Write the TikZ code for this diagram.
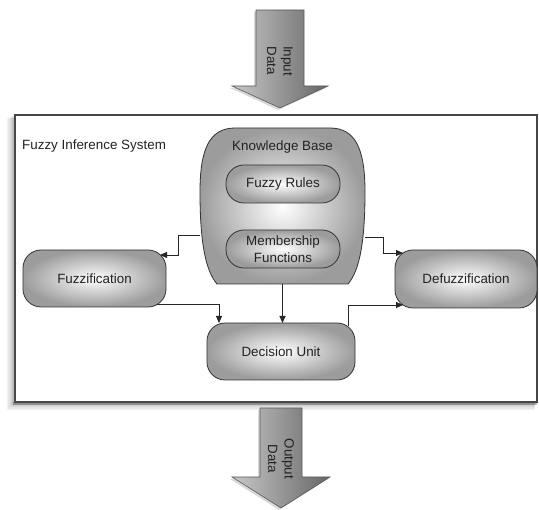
\documentclass[tikz,border=0pt]{standalone}
\usepackage{fontspec}
\setmainfont{Liberation Sans}
\usetikzlibrary{arrows.meta,shadows}
\definecolor{edge}{HTML}{333333}
\definecolor{txt}{HTML}{222222}
\definecolor{outg}{HTML}{9C9C9C}
\definecolor{arrL}{HTML}{C8C8C8}
\definecolor{arrR}{HTML}{666666}
\begin{document}
\begin{tikzpicture}[x=1pt,y=-1pt,
  every node/.style={font=\fontsize{13.4}{16.5}\selectfont, text=txt},
  stad/.style={draw=edge, line width=0.8pt, rounded corners=18pt, shading=radial,
    inner color=white, outer color=outg, inner sep=0pt, outer sep=0pt},
  kbshape/.style={draw=edge, line width=0.8pt, shading=radial, inner color=white, outer color=outg},
  conn/.style={draw=black!85, line width=0.9pt, -{Triangle[length=7pt,width=6pt]}},
  bigarrow/.style={draw=black!65, line width=0.6pt, shading=axis, left color=arrL, right color=arrR,
    drop shadow={opacity=0.3, shadow xshift=-2pt, shadow yshift=-2pt}}]
\useasboundingbox (0,0) rectangle (539,510);

% soft shadow of the main box
\foreach \i in {1,...,7}
  \fill[black, opacity=0.05] (15-\i*1.1, 115+\i*0.5) rectangle (537-\i*0.4, 402+\i*1.1);
\fill[black, opacity=0.25] (13,402) rectangle (537,405);

% main frame
\node[draw=black!72, line width=2pt, fill=white, minimum width=522pt, minimum height=287pt,
  inner sep=0pt, outer sep=0pt] (fis) at (276,258.5) {};
\node[anchor=west, inner sep=0pt] (title) at (22,146) {Fuzzy Inference System};

% input arrow
\path[bigarrow] (256,10) -- (304,10) -- (304,86) -- (328,86) -- (280,108) -- (232,86) -- (256,86) -- cycle;
\node[rotate=-90, align=center, inner sep=0pt] (intext) at (280,61) {Input\\Data};

% output arrow
\path[bigarrow] (260,408) -- (302,408) -- (302,477) -- (330,477) -- (281,508) -- (232,477) -- (260,477) -- cycle;
\node[rotate=-90, align=center, inner sep=0pt] (outtext) at (281,459) {Output\\Data};

% knowledge base
\path[kbshape] (235,128) -- (330,128) .. controls (356,128) and (365,150) .. (365,192)
  .. controls (365,240) and (360,270) .. (348,284) -- (217,284)
  .. controls (205,270) and (200,240) .. (200,192) .. controls (200,150) and (209,128) .. (235,128) -- cycle;
\node[minimum width=165pt, minimum height=156pt, inner sep=0pt, outer sep=0pt] (kb) at (282.5,206) {};
\node (kbt) at (282.5,147) {Knowledge Base};
\node[stad, minimum width=114pt, minimum height=38pt] (rules) at (283,184) {Fuzzy Rules};
\node[stad, minimum width=114pt, minimum height=38pt, align=center] (mf) at (283,249) {Membership\\Functions};

% process nodes
\node[stad, minimum width=143pt, minimum height=57pt] (fuzz) at (94.5,278.5) {Fuzzification};
\node[stad, minimum width=142pt, minimum height=58pt] (defuzz) at (466,279) {Defuzzification};
\node[stad, minimum width=148pt, minimum height=57pt] (dec) at (281,351.5) {Decision Unit};

% connectors
\draw[conn] ([yshift=-29pt]kb.west) -- ++(-22,0) |- ([xshift=-6pt,yshift=-5pt]fuzz.north east);
\draw[conn] ([yshift=-31pt]kb.east) -- ++(18,0) |- ([xshift=8pt,yshift=-3pt]defuzz.north west);
\draw[conn] ([xshift=-9pt,yshift=3pt]fuzz.south east) -| ([xshift=12pt]dec.north west);
\draw[conn] (kb.south) -- (kb.south |- dec.north);
\draw[conn] ([xshift=-7pt,yshift=-3pt]dec.north east) |- ([xshift=8pt,yshift=3pt]defuzz.south west);
\end{tikzpicture}
\end{document}
